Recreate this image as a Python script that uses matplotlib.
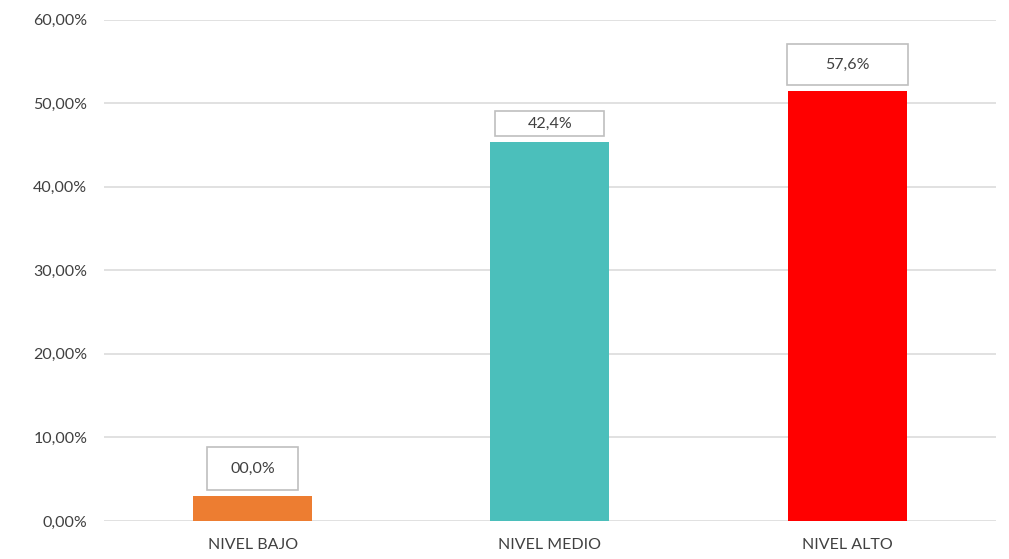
import matplotlib

matplotlib.use("Agg")
import matplotlib.pyplot as plt
from matplotlib.path import Path
from matplotlib.ticker import FuncFormatter

categories = ["NIVEL BAJO", "NIVEL MEDIO", "NIVEL ALTO"]
values = [3.0, 45.3, 51.4]
value_labels = ["00,0%", "42,4%", "57,6%"]
colors = ["#ED7D31", "#4BBFBB", "#FF0000"]
yticks = [0, 10, 20, 30, 40, 50, 60]

# label box sizes in pixels (w, h) and gap above bar
box_sizes = [(91, 43), (109, 25), (121, 41)]
box_gap = 6

TEXT = "#404040"
plt.rcParams["font.family"] = ["Lato", "DejaVu Sans"]


def fixed_box(w, h):
    def box(x0, y0, width, height, mutation_size):
        cx = x0 + width / 2
        cy = y0 + height / 2
        verts = [(cx - w / 2, cy - h / 2), (cx + w / 2, cy - h / 2),
                 (cx + w / 2, cy + h / 2), (cx - w / 2, cy + h / 2),
                 (cx - w / 2, cy - h / 2)]
        return Path(verts, closed=True)
    return box


fig = plt.figure(figsize=(10.09, 5.59), dpi=100)
ax = fig.add_axes([0.103, 0.068, 0.884, 0.897])

x = list(range(len(categories)))
ax.bar(x, values, width=0.4, color=colors, zorder=3)

for xi, v, lab, (bw, bh) in zip(x, values, value_labels, box_sizes):
    ax.annotate(lab, (xi, v), xytext=(0, box_gap + bh / 2), textcoords="offset pixels",
                ha="center", va="center", fontsize=11.5, color=TEXT, zorder=4,
                bbox=dict(boxstyle=fixed_box(bw, bh), fc="white", ec="#BFBFBF", lw=1.2))

ax.set_xlim(-0.5, 2.5)
ax.set_ylim(0, 60)
ax.set_yticks(yticks)
ax.yaxis.set_major_formatter(FuncFormatter(lambda v, p: f"{v:.2f}".replace(".", ",") + "%"))
ax.set_xticks(x)
ax.set_xticklabels(categories)
ax.tick_params(axis="both", length=0, labelsize=11.5, labelcolor=TEXT)
ax.tick_params(axis="y", pad=12)
ax.tick_params(axis="x", pad=12)
ax.grid(axis="y", color="#D9D9D9", lw=1.1, zorder=0)
for s in ax.spines.values():
    s.set_visible(False)

fig.savefig("out.png", dpi=100)
